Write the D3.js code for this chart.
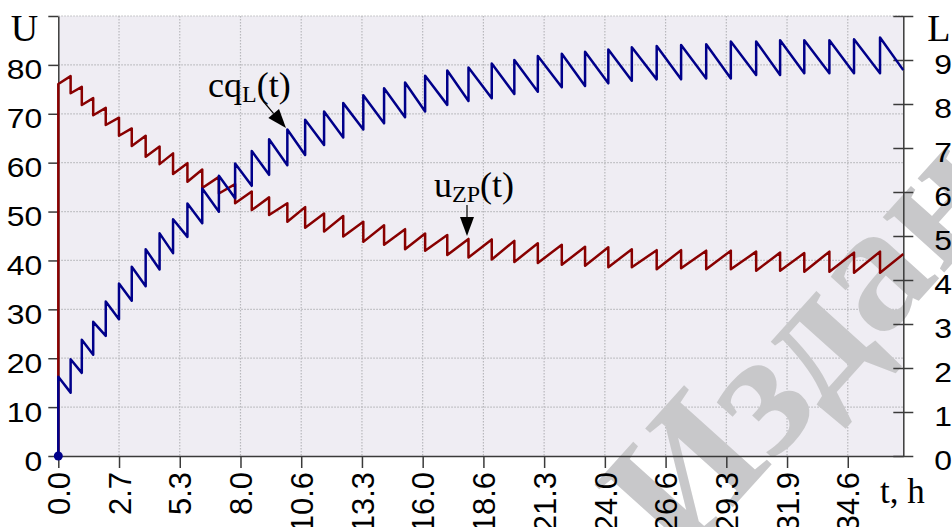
<!DOCTYPE html>
<html>
<head>
<meta charset="utf-8">
<script src="https://cdn.jsdelivr.net/npm/d3@7/dist/d3.min.js"></script>
<style>
  html, body { margin: 0; padding: 0; background: #ffffff; }
  svg { display: block; }
</style>
</head>
<body>
<svg id="chart" width="952" height="527"></svg>
<script>
// ---------------- data ----------------
// times (h) of the periodic events (jumps)
const eventTimes = [0, 0.54, 1.03, 1.53, 2.08, 2.66, 3.22, 3.83, 4.44, 5.03, 5.66, 6.31, 7.04, 7.75, 8.48,
  9.24, 10.04, 10.82, 11.65, 12.49, 13.37, 14.28, 15.20, 16.08, 17.05, 17.98, 19.00, 19.99, 21.02, 22.07,
  23.09, 24.11, 25.14, 26.23, 27.30, 28.40, 29.48, 30.59, 31.64, 32.70, 33.80, 34.88, 36.02];
const tEnd = 37.04;
// cq_L(t), right axis L: value right after each jump, and just before the next one
const cqPeak = [1.80, 2.20, 2.64, 3.05, 3.51, 3.92, 4.30, 4.70, 5.06, 5.38, 5.74, 6.08, 6.37, 6.65, 6.93,
  7.20, 7.42, 7.64, 7.83, 8.02, 8.20, 8.36, 8.49, 8.64, 8.76, 8.83, 8.92, 9.00, 9.09, 9.14,
  9.19, 9.24, 9.29, 9.32, 9.34, 9.36, 9.42, 9.42, 9.45, 9.45, 9.45, 9.47, 9.51];
const cqTrough = [1.44, 1.89, 2.30, 2.73, 3.11, 3.53, 3.86, 4.24, 4.61, 4.98, 5.29, 5.55, 5.86, 6.14, 6.39,
  6.61, 6.84, 7.07, 7.24, 7.42, 7.56, 7.70, 7.83, 7.98, 8.07, 8.13, 8.23, 8.28, 8.38, 8.41,
  8.47, 8.53, 8.56, 8.56, 8.58, 8.58, 8.66, 8.66, 8.70, 8.70, 8.70, 8.70, 8.77];
// u_ZP(t), left axis U: value right after each drop, and just before the next one
const uLow = [76.1, 74.2, 71.8, 69.7, 67.7, 65.5, 63.4, 61.2, 59.7, 57.7, 56.1, 54.8, 53.7, 51.7, 50.3,
  49.3, 47.9, 46.7, 45.9, 44.9, 43.8, 43.2, 42.3, 42.0, 41.1, 40.6, 40.2, 39.7, 39.5, 39.1,
  38.9, 38.6, 38.6, 38.2, 38.4, 38.2, 38.2, 37.9, 37.9, 37.7, 37.7, 37.5, 37.5];
const uHigh = [77.7, 75.5, 73.2, 71.2, 69.2, 67.0, 65.5, 63.3, 61.9, 59.9, 58.6, 57.1, 55.6, 54.1, 52.9,
  51.7, 50.9, 49.6, 49.1, 47.9, 47.2, 46.4, 45.5, 45.2, 44.4, 44.3, 44.0, 43.5, 43.2, 42.8,
  42.7, 42.3, 42.1, 42.1, 42.0, 42.0, 41.8, 41.6, 41.5, 41.8, 41.6, 41.8, 41.3];

const xTickValues = [0, 2.662, 5.324, 7.986, 10.648, 13.31, 15.972, 18.634, 21.296, 23.958, 26.62, 29.282, 31.944, 34.606];
const leftTickValues = [0, 10, 20, 30, 40, 50, 60, 70, 80, 90];
const leftTickLabels = ["0", "10", "20", "30", "40", "50", "60", "70", "80", "U"];
const rightTickValues = [0, 1, 2, 3, 4, 5, 6, 7, 8, 9, 10];
const rightTickLabels = ["0", "1", "2", "3", "4", "5", "6", "7", "8", "9", "L"];

// ---------------- layout ----------------
const svg = d3.select("#chart");
const X0 = 58.3, X1 = 903.3, Y0 = 456, Y1 = 16;
const x = d3.scaleLinear().domain([0, tEnd]).range([X0, X1]);
const yU = d3.scaleLinear().domain([0, 90]).range([Y0, Y1]);
const yL = d3.scaleLinear().domain([0, 10]).range([Y0, Y1]);

const sans = "'Liberation Sans', Arial, sans-serif";
const serif = "'Liberation Serif', 'Times New Roman', serif";
const axisCol = "#3a3a3a";

// plot background
svg.append("rect").attr("x", X0).attr("y", Y1).attr("width", X1 - X0).attr("height", Y0 - Y1)
  .attr("fill", "#efedf3");

// grid
const grid = svg.append("g");
grid.selectAll("line.v").data(xTickValues.slice(1)).enter().append("line")
  .attr("x1", d => x(d)).attr("x2", d => x(d)).attr("y1", Y1).attr("y2", Y0)
  .attr("stroke", "#b8b8bc").attr("stroke-width", 1.2).attr("stroke-dasharray", "1.5,1.5");
grid.selectAll("line.h").data(leftTickValues.slice(1)).enter().append("line")
  .attr("x1", X0).attr("x2", X1).attr("y1", d => yU(d)).attr("y2", d => yU(d))
  .attr("stroke", "#b8b8bc").attr("stroke-width", 1.2).attr("stroke-dasharray", "1.5,1.5");

// watermark (publisher's stamp in the source picture)
svg.append("text")
  .attr("transform", "translate(680,566) rotate(-48)")
  .attr("font-family", serif).attr("font-size", 180).attr("font-weight", "bold").attr("fill", "#c8c8ca")
  .text("Издание");

// axes
const gx = svg.append("g").attr("transform", `translate(0,${Y0})`)
  .call(d3.axisBottom(x).tickValues(xTickValues).tickFormat(d3.format(".1f")).tickSize(12).tickSizeOuter(0));
gx.select(".domain").attr("stroke", axisCol).attr("stroke-width", 1.5);
gx.selectAll(".tick line").attr("stroke", axisCol).attr("stroke-width", 1.5);
gx.selectAll(".tick text")
  .attr("font-family", sans).attr("font-size", 31).attr("fill", "#000")
  .attr("text-anchor", "end").attr("transform", "rotate(-90)")
  .attr("x", -16).attr("y", 0).attr("dy", "0.36em");

const gl = svg.append("g").attr("transform", `translate(${X0},0)`)
  .call(d3.axisLeft(yU).tickValues(leftTickValues).tickFormat((d, i) => leftTickLabels[i]).tickSize(10).tickSizeOuter(0));
gl.select(".domain").attr("stroke", axisCol).attr("stroke-width", 1.5);
gl.selectAll(".tick line").attr("stroke", axisCol).attr("stroke-width", 1.5);
gl.selectAll(".tick text").attr("fill", "#000").attr("x", null).attr("dy", null)
  .attr("text-anchor", "end")
  .attr("font-family", (d, i) => i === leftTickValues.length - 1 ? serif : sans)
  .attr("font-size", (d, i) => i === leftTickValues.length - 1 ? 38 : 27)
  .attr("transform", (d, i) => i === leftTickValues.length - 1
      ? "translate(-20,24)" : "translate(-16,14) scale(1.18,1)");

const gr = svg.append("g").attr("transform", `translate(${X1},0)`)
  .call(d3.axisRight(yL).tickValues(rightTickValues).tickFormat((d, i) => rightTickLabels[i]).tickSize(10).tickSizeOuter(0));
gr.select(".domain").attr("stroke", axisCol).attr("stroke-width", 1.5);
gr.selectAll(".tick line").attr("stroke", axisCol).attr("stroke-width", 1.5).attr("x1", -10);
gr.selectAll(".tick text").attr("fill", "#000").attr("x", null).attr("dy", null)
  .attr("text-anchor", "start")
  .attr("font-family", (d, i) => i === rightTickValues.length - 1 ? serif : sans)
  .attr("font-size", (d, i) => i === rightTickValues.length - 1 ? 38 : 27)
  .attr("transform", (d, i) => i === rightTickValues.length - 1
      ? "translate(24,24)" : "translate(31,13) scale(1.18,1)");

// axis title
svg.append("text").attr("x", 880).attr("y", 503).attr("font-family", serif).attr("font-size", 35)
  .attr("fill", "#000").text("t, h");

// ---------------- series ----------------
const cqPts = [[0, 0]];
eventTimes.forEach((t, i) => {
  const tn = i + 1 < eventTimes.length ? eventTimes[i + 1] : tEnd;
  cqPts.push([t, cqPeak[i]]);
  cqPts.push([tn, cqTrough[i]]);
});
const uPts = [[0, 0]];
eventTimes.forEach((t, i) => {
  const tn = i + 1 < eventTimes.length ? eventTimes[i + 1] : tEnd;
  uPts.push([t, uLow[i]]);
  uPts.push([tn, uHigh[i]]);
});

svg.append("path").datum(uPts)
  .attr("d", d3.line().x(d => x(d[0])).y(d => yU(d[1])))
  .attr("fill", "none").attr("stroke", "#880000").attr("stroke-width", 2.5).attr("stroke-linejoin", "round");
svg.append("path").datum(cqPts)
  .attr("d", d3.line().x(d => x(d[0])).y(d => yL(d[1])))
  .attr("fill", "none").attr("stroke", "#00008a").attr("stroke-width", 2.5).attr("stroke-linejoin", "round");
svg.append("circle").attr("cx", x(0)).attr("cy", yL(0)).attr("r", 4.5).attr("fill", "#00008a");

// ---------------- annotations ----------------
function label(xp, yp, main, sub, tail) {
  const t = svg.append("text").attr("x", xp).attr("y", yp).attr("font-family", serif)
    .attr("font-size", 36).attr("fill", "#000");
  t.append("tspan").text(main);
  t.append("tspan").attr("font-size", 24).attr("dy", 5).text(sub);
  t.append("tspan").attr("dy", -5).text(tail);
}
label(208, 97, "cq", "L", "(t)");
label(434, 197, "u", "ZP", "(t)");

// arrows
function arrow(x1, y1, x2, y2) {
  const a = Math.atan2(y2 - y1, x2 - x1), len = 19, w = 7;
  const bx = x2 - len * Math.cos(a), by = y2 - len * Math.sin(a);
  svg.append("line").attr("x1", x1).attr("y1", y1).attr("x2", bx).attr("y2", by)
    .attr("stroke", "#000").attr("stroke-width", 1.2);
  const p = [[x2, y2], [bx + w * Math.sin(a), by - w * Math.cos(a)], [bx - w * Math.sin(a), by + w * Math.cos(a)]];
  svg.append("polygon").attr("points", p.map(q => q.join(",")).join(" ")).attr("fill", "#000");
}
arrow(263, 101, 286, 128);
arrow(467, 205, 467, 236);
</script>
</body>
</html>
